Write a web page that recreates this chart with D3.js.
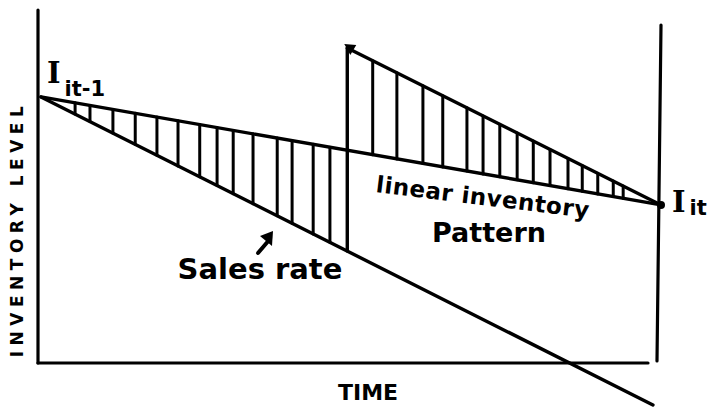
<!DOCTYPE html>
<html><head><meta charset="utf-8">
<script src="https://cdn.jsdelivr.net/npm/d3@7"></script>
<style>html,body{margin:0;padding:0;background:#fff;}svg{display:block;}</style>
</head><body>
<script>
// Data (time 0..100, inventory level 0..100)
const startLevel = 88.7;          // I_it-1
const endLevel = 52.7;            // I_it
const jumpTime = 49.4;            // replenishment moment
const jumpTopLevel = 105;         // level after replenishment
const salesEnd = [98.7, -14];     // sales-rate line end (time, level)
const hatchLeft = [5.5, 7.9, 11.6, 15.2, 18.7, 22.1, 25.6, 28.4, 31, 34.2, 38.1, 40.5, 43.9, 46.6];
const hatchRight = [53.5, 57.4, 61.6, 64.8, 68.7, 71.3, 74, 76.8, 79.4, 82.1, 85, 87.3, 89.8, 92.3, 93.9];
const labels = {y: "INVENTORY LEVEL", x: "TIME", start: "I", startSub: "it-1", end: "I", endSub: "it",
  pattern1: "linear inventory", pattern2: "Pattern", sales: "Sales rate"};

const W = 720, H = 407;
const svg = d3.select("body").append("svg").attr("width", W).attr("height", H);
const x = d3.scaleLinear().domain([0, 100]).range([41, 661]);
const y = d3.scaleLinear().domain([0, 100]).range([363, 63]);

const linear = t => startLevel + (endLevel - startLevel) * t / 100;
const sales = t => startLevel + (salesEnd[1] - startLevel) * t / salesEnd[0];
const upper = t => jumpTopLevel + (endLevel - jumpTopLevel) * (t - jumpTime) / (100 - jumpTime);

const ink = "#000";
const g = svg.append("g").attr("stroke", ink).attr("stroke-linecap", "round").attr("fill", "none");

// axes frame
g.append("line").attr("x1", 38).attr("y1", 10).attr("x2", 38).attr("y2", y(0)).attr("stroke-width", 3.2);
g.append("line").attr("x1", 38).attr("y1", y(0)).attr("x2", 648).attr("y2", y(0)).attr("stroke-width", 3.2);
g.append("line").attr("x1", x(100)).attr("y1", 25).attr("x2", x(100) - 4).attr("y2", y(0) - 2).attr("stroke-width", 3.2);

// hatch lines
g.selectAll(".hl").data(hatchLeft).enter().append("line")
  .attr("x1", d => x(d)).attr("x2", d => x(d))
  .attr("y1", d => y(linear(d))).attr("y2", d => y(sales(d))).attr("stroke-width", 3);
g.selectAll(".hr").data(hatchRight).enter().append("line")
  .attr("x1", d => x(d)).attr("x2", d => x(d))
  .attr("y1", d => y(upper(d))).attr("y2", d => y(linear(d))).attr("stroke-width", 3);

// linear inventory pattern
g.append("line").attr("x1", x(0)).attr("y1", y(startLevel)).attr("x2", x(100)).attr("y2", y(endLevel)).attr("stroke-width", 3.4);
// sales rate
g.append("line").attr("x1", x(0)).attr("y1", y(startLevel)).attr("x2", x(salesEnd[0])).attr("y2", y(salesEnd[1])).attr("stroke-width", 3.4);
// jump
g.append("line").attr("x1", x(jumpTime)).attr("y1", y(sales(jumpTime))).attr("x2", x(jumpTime)).attr("y2", y(jumpTopLevel)).attr("stroke-width", 3.4);
// upper sawtooth
g.append("line").attr("x1", x(jumpTime)).attr("y1", y(jumpTopLevel)).attr("x2", x(100)).attr("y2", y(endLevel)).attr("stroke-width", 3.4);
// arrowhead at top of jump
const jx = x(jumpTime), jy = y(jumpTopLevel);
svg.append("path").attr("d", `M${jx-3},${jy-4} L${jx+9},${jy-3} L${jx+3},${jy+7} Z`).attr("fill", ink);
// dot at I_it
svg.append("circle").attr("cx", x(100)).attr("cy", y(endLevel)).attr("r", 4).attr("fill", ink);

// arrow to sales line
g.append("line").attr("x1", 258).attr("y1", 253).attr("x2", 270).attr("y2", 239).attr("stroke-width", 4);
svg.append("path").attr("d", "M273,231 L260,236 L272,246 Z").attr("fill", ink);

const font = "'DejaVu Sans', sans-serif";
// y label
svg.append("text").attr("transform", "translate(23,229) rotate(-90)")
  .attr("text-anchor", "middle").attr("font-family", font).attr("font-weight", "bold")
  .attr("font-size", 17).attr("letter-spacing", 5.5).text(labels.y);
// x label
svg.append("text").attr("x", 368).attr("y", 400).attr("text-anchor", "middle")
  .attr("font-family", font).attr("font-weight", "bold").attr("font-size", 22).text(labels.x);

// I_it-1
const t1 = svg.append("text").attr("x", 47).attr("y", 83).attr("font-family", "'DejaVu Serif', serif")
  .attr("font-weight", "bold").attr("font-size", 29);
t1.append("tspan").text(labels.start);
t1.append("tspan").attr("dx", 4).attr("dy", 13).attr("font-size", 21).attr("font-family", font).text(labels.startSub);
// I_it
const t2 = svg.append("text").attr("x", 672).attr("y", 212).attr("font-family", "'DejaVu Serif', serif")
  .attr("font-weight", "bold").attr("font-size", 29);
t2.append("tspan").text(labels.end);
t2.append("tspan").attr("dx", 4).attr("dy", 3).attr("font-size", 21).attr("font-family", font).text(labels.endSub);

// pattern text
svg.append("text").attr("x", 482).attr("y", 205).attr("text-anchor", "middle").attr("font-family", font)
  .attr("font-weight", "bold").attr("font-size", 23).attr("letter-spacing", 0.5)
  .attr("transform", "rotate(7,482,205)").text(labels.pattern1);
svg.append("text").attr("x", 489).attr("y", 242).attr("text-anchor", "middle").attr("font-family", font)
  .attr("font-weight", "bold").attr("font-size", 27).text(labels.pattern2);
// sales text
svg.append("text").attr("x", 260).attr("y", 279).attr("text-anchor", "middle").attr("font-family", font)
  .attr("font-weight", "bold").attr("font-size", 29).text(labels.sales);
</script>
</body></html>
